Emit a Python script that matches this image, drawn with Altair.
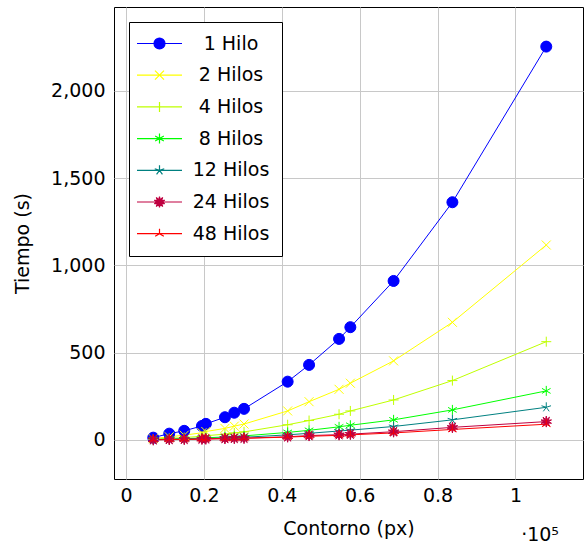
import math
import altair as alt
import pandas as pd

# ---- data ----
series = ["1 Hilo", "2 Hilos", "4 Hilos", "8 Hilos", "12 Hilos", "24 Hilos", "48 Hilos"]
colors = ["#0000ff", "#ffff00", "#bfff00", "#00ff00", "#008080", "#bf0040", "#ff0000"]

contorno = [7000, 11100, 14950, 19500, 20500, 25400, 27800, 30300,
            41500, 47000, 54700, 57600, 68700, 83800, 107900]

t_1 = [13, 36, 52, 80, 92, 130, 156, 178, 334, 430, 579, 646, 911, 1362, 2254]
t_2 = [7, 18, 27, 41, 48, 66, 79, 91, 166, 219, 290, 325, 453, 674, 1117]
t_4 = [3.5, 9, 13.5, 21, 24, 33, 40, 46, 87, 111, 147, 166, 229, 340, 563]
t_8 = [2, 5, 7, 11, 12, 17, 20, 23, 43, 55, 75, 84, 115, 172, 281]
t_12 = [1.5, 3.5, 5, 7.5, 8.5, 11, 13, 15, 29, 38, 51, 56, 77, 115, 187]
t_24 = [1, 2.5, 3.5, 5, 6, 8, 9, 10, 18, 25, 30, 33, 47, 72, 105]
t_48 = [0.8, 2, 3, 4.5, 5, 7, 8, 9, 16, 21, 26, 29, 40, 60, 90]

x_ticks = [0, 20000, 40000, 60000, 80000, 100000]
y_ticks = [0, 500, 1000, 1500, 2000]

all_t = [t_1, t_2, t_4, t_8, t_12, t_24, t_48]
rows = []
for name, ts in zip(series, all_t):
    for xv, tv in zip(contorno, ts):
        rows.append({"series": name, "contorno": xv, "tiempo": tv})
df = pd.DataFrame(rows)

# ---- marker shapes (unit square paths) ----
def circle(r):
    return f"M{-r},0A{r},{r} 0 1,0 {r},0A{r},{r} 0 1,0 {-r},0Z"

def arms(angles, r=1.0):
    s = ""
    for a in angles:
        ar = math.radians(a)
        s += f"M0,0L{r*math.cos(ar):.3f},{-r*math.sin(ar):.3f}"
    return s

def star10(ro=1.1, ri=0.45):
    pts = []
    for k in range(20):
        a = math.radians(90 + k * 18)
        r = ro if k % 2 == 0 else ri
        pts.append(f"{r*math.cos(a):.3f},{-r*math.sin(a):.3f}")
    return "M" + "L".join(pts) + "Z"

m_circle = circle(1.1)
m_x = "M-0.9,-0.9L0.9,0.9M-0.9,0.9L0.9,-0.9"
m_plus = "M-1,0L1,0M0,-1L0,1"
m_ast = arms([90, 270, 30, 210, 150, 330])
m_star = arms([90, 162, 234, 306, 18])
m_star10 = star10()
m_merc = arms([90, 210, 330])
plot_shapes = [m_circle, m_x, m_plus, m_ast, m_star, m_star10, m_merc]
leg_line = "M-4.5,0L4.5,0"
legend_shapes = [leg_line + s for s in plot_shapes]

FONT = "DejaVu Sans"
FS = 19

x_enc = alt.X("contorno:Q",
              scale=alt.Scale(domain=[-3081, 117330], nice=False, zero=False),
              axis=alt.Axis(values=x_ticks, labelExpr="format(datum.value/100000, '~g')",
                            title="Contorno (px)", grid=True, ticks=False, domain=False,
                            labelPadding=7, titlePadding=14))
y_enc = alt.Y("tiempo:Q",
              scale=alt.Scale(domain=[-224, 2481], nice=False, zero=False),
              axis=alt.Axis(values=y_ticks, format=",d", title="Tiempo (s)", grid=True,
                            ticks=False, domain=False, labelPadding=9, titlePadding=18))

base = alt.Chart(df)
lines = base.mark_line(strokeWidth=1).encode(
    x=x_enc, y=y_enc,
    stroke=alt.Stroke("series:N", scale=alt.Scale(domain=series, range=colors), legend=None),
    order="contorno:Q",
)
points = base.mark_point(size=100, strokeWidth=1, opacity=1).encode(
    x=x_enc, y=y_enc,
    fill=alt.Fill("series:N", scale=alt.Scale(domain=series, range=colors), legend=None),
    stroke=alt.Stroke("series:N", scale=alt.Scale(domain=series, range=colors), legend=None),
    shape=alt.Shape("series:N", scale=alt.Scale(domain=series, range=plot_shapes), legend=None),
)
layer_a = alt.layer(lines, points)

leg = alt.Legend(title=None, orient="top-left", offset=15, padding=12,
                 fillColor="white", strokeColor="black", cornerRadius=0,
                 symbolSize=100, symbolStrokeWidth=1.2, symbolOffset=9,
                 labelFont=FONT, labelFontSize=FS, labelAlign="center",
                 labelOffset=62, rowPadding=11.7, labelColor="black")
legend_layer = alt.Chart(df).transform_filter("false").mark_point(
    size=100, strokeWidth=1.2, opacity=1).encode(
    fill=alt.Fill("series:N", scale=alt.Scale(domain=series, range=colors), legend=leg),
    stroke=alt.Stroke("series:N", scale=alt.Scale(domain=series, range=colors), legend=leg),
    shape=alt.Shape("series:N", scale=alt.Scale(domain=series, range=legend_shapes), legend=leg),
)

chart = alt.layer(layer_a, legend_layer).resolve_scale(
    fill="independent", stroke="independent", shape="independent"
).properties(
    width=469, height=472,
    autosize=alt.AutoSizeParams(type="none"),
    padding={"left": 114, "top": 7, "right": 1, "bottom": 68},
    title=alt.TitleParams(text="·10⁵", orient="bottom", anchor="end", font=FONT,
                          fontSize=FS, fontWeight="normal", dx=-24, offset=-8, dy=-4,
                          color="black"),
).configure_view(stroke="black", strokeWidth=1).configure_axis(
    labelFont=FONT, titleFont=FONT, labelFontSize=FS, titleFontSize=FS,
    titleFontWeight="normal", labelColor="black", titleColor="black",
    gridColor="#c8c8c8", gridWidth=1,
)

chart.save("out.html", embed_options={"renderer": "svg", "actions": False})
